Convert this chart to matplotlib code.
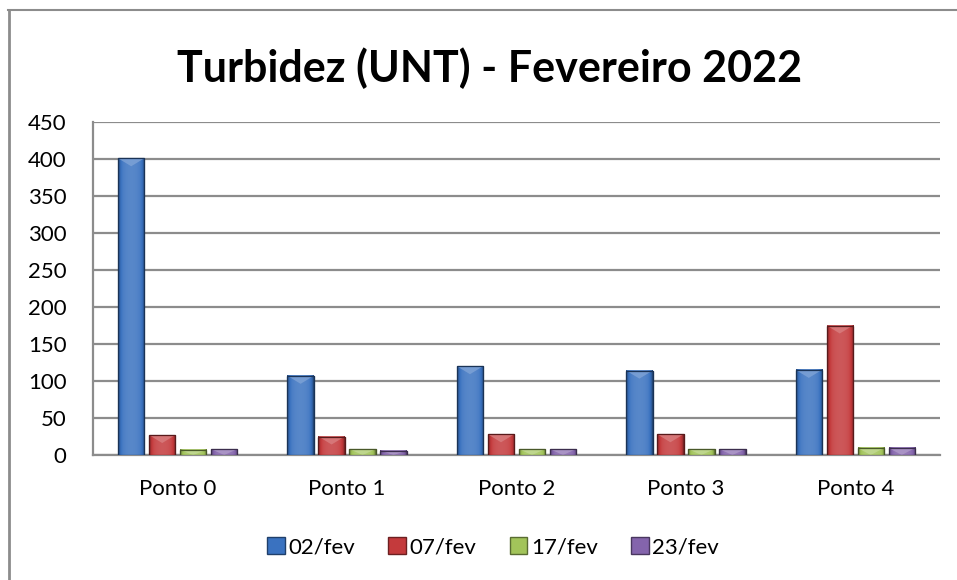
import numpy as np
import matplotlib
matplotlib.use("Agg")
import matplotlib.pyplot as plt
from matplotlib.patches import Patch, Polygon
from matplotlib.lines import Line2D
from matplotlib.colors import to_rgb

plt.rcParams['font.family'] = ['Lato', 'DejaVu Sans']

categories = ["Ponto 0", "Ponto 1", "Ponto 2", "Ponto 3", "Ponto 4"]
series_names = ["02/fev", "07/fev", "17/fev", "23/fev"]
s_0202 = [401, 107, 120, 114, 115]
s_0702 = [27, 25, 28, 28, 175]
s_1702 = [7, 8, 8, 8, 9.5]
s_2302 = [8, 6, 8, 8, 9.5]
series = [s_0202, s_0702, s_1702, s_2302]
colors = ["#3A72C0", "#C43A3C", "#A2C45A", "#8464AC"]
yticks = [0, 50, 100, 150, 200, 250, 300, 350, 400, 450]

W, H = 957, 580
fig = plt.figure(figsize=(W / 100, H / 100), dpi=100)
ax = fig.add_axes([93 / W, (H - 455) / H, (940 - 93) / W, (455 - 122) / H])

x = np.arange(len(categories))
bw = 0.155
step = 0.183
offsets = (np.arange(4) - 1.5) * step

def shade(c, f):
    r = np.array(to_rgb(c))
    if f >= 0:
        return tuple(r + (1 - r) * f)
    return tuple(r * (1 + f))

for i, (vals, col) in enumerate(zip(series, colors)):
    xs = x + offsets[i]
    bars = ax.bar(xs, vals, width=bw, color=col, edgecolor=shade(col, -0.45),
                  linewidth=0.8, zorder=3)
    for b in bars:
        x0, w, h = b.get_x(), b.get_width(), b.get_height()
        grad = np.linspace(-1, 1, 64)
        prof = 0.15 * (1 - grad ** 2) - 0.45 * grad ** 8
        img = np.array([[shade(col, p) for p in prof]])
        ax.imshow(img, extent=[x0, x0 + w, 0, h], aspect='auto', zorder=3.1,
                  interpolation='bilinear', clip_on=True)
        bev = min(h, 8 / 0.74)
        tri = Polygon([[x0, h], [x0 + w, h], [x0 + w / 2, h - bev]],
                      closed=True, facecolor=shade(col, 0.35),
                      edgecolor='none', zorder=3.2, alpha=0.8)
        ax.add_patch(tri)
        ax.add_patch(plt.Rectangle((x0, 0), w, h, fill=False,
                                   edgecolor=shade(col, -0.55), linewidth=0.9,
                                   zorder=3.3))

ax.set_xlim(-0.5, len(categories) - 0.5)
ax.set_ylim(0, 450)
ax.set_yticks(yticks)
ax.set_xticks(x)
ax.set_xticklabels(categories)
ax.tick_params(axis='both', length=0, labelsize=16, colors='black')
ax.tick_params(axis='y', pad=19)
ax.tick_params(axis='x', pad=17)
ax.yaxis.grid(True, color='#8c8c8c', linewidth=1.6, zorder=0)
ax.set_axisbelow(True)
for s in ['top', 'right']:
    ax.spines[s].set_visible(False)
for s in ['left', 'bottom']:
    ax.spines[s].set_color('#8c8c8c')
    ax.spines[s].set_linewidth(1.6)

fig.text(490 / W, 1 - 68 / H, "Turbidez (UNT) - Fevereiro 2022", ha='center',
         va='center', fontsize=31, fontweight='bold')

handles = [Patch(facecolor=c, edgecolor=shade(c, -0.45)) for c in colors]
fig.legend(handles, series_names, loc='center', bbox_to_anchor=(493 / W, 1 - 547 / H),
           ncol=4, frameon=False, fontsize=16, handlelength=0.8, handleheight=0.8,
           handletextpad=0.15, columnspacing=1.5)

fig.add_artist(Line2D([8 / W, 1], [1 - 10 / H, 1 - 10 / H], color='#8c8c8c', lw=1.5))
fig.add_artist(Line2D([9 / W, 9 / W], [0, 1 - 10 / H], color='#8c8c8c', lw=2))

fig.savefig("out.png", dpi=100)
